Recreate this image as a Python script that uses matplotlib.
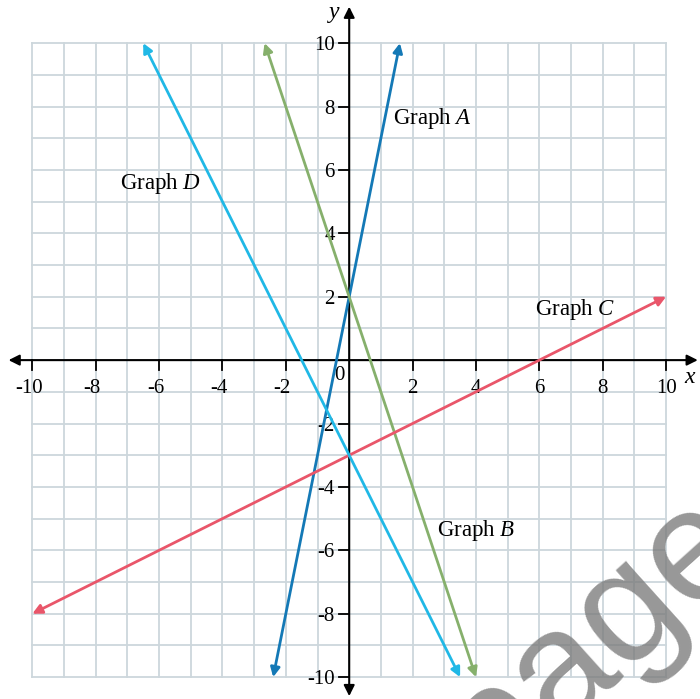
import matplotlib
matplotlib.use("Agg")
import matplotlib.pyplot as plt

plt.rcParams['font.family'] = ['Liberation Serif', 'DejaVu Serif']
plt.rcParams['mathtext.fontset'] = 'custom'
plt.rcParams['mathtext.rm'] = 'Liberation Serif'
plt.rcParams['mathtext.it'] = 'Liberation Serif:italic'

# line endpoints
graph_names = ['A', 'B', 'C', 'D']
x_start = [-2.4, 4.0, -10.0, 3.5]
y_start = [-10.0, -10.0, -8.0, -10.0]
x_end = [1.6, -2.67, 10.0, -6.5]
y_end = [10.0, 10.0, 2.0, 10.0]
line_colors = ['#1479b6', '#86b06c', '#e9566a', '#20b8e6']

# label positions (left edge, centre)
label_x = [1.39, 2.78, 5.87, -7.22]
label_y = [7.63, -5.39, 1.61, 5.58]

tick_values = [-10, -8, -6, -4, -2, 2, 4, 6, 8, 10]

fig = plt.figure(figsize=(7, 6.99), dpi=100)
ax = fig.add_axes([0, 0, 1, 1])
ax.set_xlim(-11.02, 11.07)
ax.set_ylim(-10.69, 11.36)
ax.axis('off')

#grid
grid_col = '#cdd7dc'
for i in range(-10, 11):
    ax.plot([i, i], [-10, 10], color=grid_col, lw=1.3, zorder=1)
    ax.plot([-10, 10], [i, i], color=grid_col, lw=1.3, zorder=1)

#axes with arrows
arr = dict(arrowstyle='<|-|>', color='black', lw=1.5, mutation_scale=16,
           shrinkA=0, shrinkB=0)
ax.annotate('', xy=(11.0, 0), xytext=(-10.75, 0), arrowprops=arr, zorder=3)
ax.annotate('', xy=(0, 11.15), xytext=(0, -10.6), arrowprops=arr, zorder=3)

for t in tick_values:
    ax.plot([t, t], [0, -0.32], color='black', lw=1.3, zorder=3)
    ax.plot([-0.32, 0], [t, t], color='black', lw=1.3, zorder=3)
    xoff = -0.11 if t < 0 else 0
    ax.text(t + xoff, -1.04, str(t), ha='center', va='baseline', fontsize=15)
    ax.text(-0.45, t, str(t), ha='right', va='center_baseline', fontsize=15)
ax.text(-0.32, -0.47, '0', ha='center', va='center', fontsize=15)
ax.text(10.76, -0.55, r'$x$', ha='center', va='center', fontsize=17)
ax.text(-0.47, 10.9, r'$y$', ha='center', va='center', fontsize=17)

#the four graphs
for i in range(len(graph_names)):
    ax.annotate('', xy=(x_end[i], y_end[i]), xytext=(x_start[i], y_start[i]),
                arrowprops=dict(arrowstyle='<|-|>', color=line_colors[i], lw=2,
                                mutation_scale=14, shrinkA=0, shrinkB=0),
                zorder=4)
    ax.text(label_x[i], label_y[i], 'Graph $' + graph_names[i] + '$',
            ha='left', va='center', fontsize=16.5, zorder=5)

#watermark
ax.text(0.89, 0.044, 'page', transform=ax.transAxes, rotation=42,
        rotation_mode='anchor', fontsize=115, family='Liberation Sans',
        color='#7a7a7a', alpha=0.78, ha='center', va='baseline', zorder=6)

fig.savefig('out.png', dpi=100)
